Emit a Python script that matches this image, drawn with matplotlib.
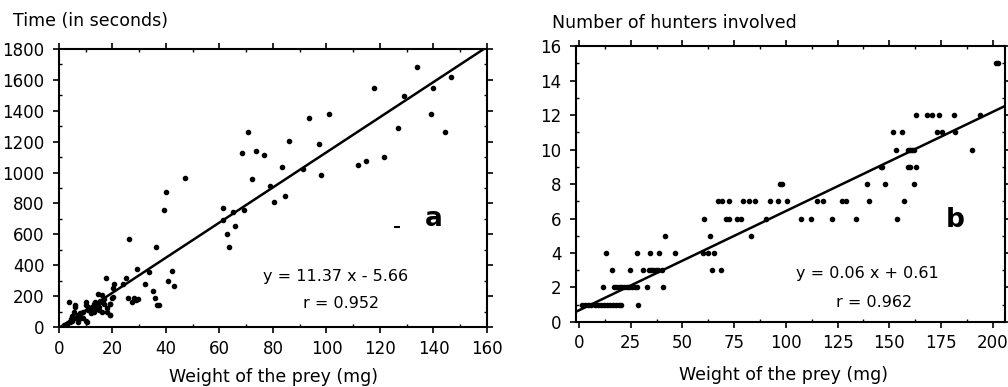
import numpy as np
import matplotlib.pyplot as plt
from matplotlib.ticker import MultipleLocator

plt.rcParams['font.family'] = ['DejaVu Sans']

# panel a: weight of prey (mg) vs time (s)
weight_a = [2, 3, 4, 4.5, 5, 5, 5.5, 6, 6, 6.5, 7, 7, 7.5, 8, 8, 9, 9, 10, 10, 10, 10.5,
            11, 11, 12, 12, 13, 13, 13.5, 14, 14, 15, 15, 15.5, 16, 16, 17, 17, 18, 18,
            19, 19, 20, 3.7, 14.7, 15.3, 17.6, 19.0, 19.2, 20.1, 20.3, 20.7, 23.8, 25.2,
            25.9, 26.2, 27.3, 28.0, 28.8, 29.2, 29.4, 32.1, 33.8, 35.3, 36.0, 36.1, 36.7,
            37.5, 39.1, 40.0, 40.7, 42.1, 43.0, 47.2, 61.2, 61.4, 62.9, 63.7, 65.2, 65.9,
            68.4, 69.0, 70.7, 72.1, 73.6, 76.8, 79.0, 80.5, 83.5, 84.4, 86.0, 91.1, 93.6,
            97.2, 98.1, 101.0, 111.7, 114.8, 117.9, 121.6, 126.8, 129.1, 133.7, 139.2,
            139.8, 144.4, 146.7]
time_a = [10, 20, 30, 50, 40, 70, 100, 130, 140, 60, 30, 80, 50, 70, 90, 100, 60, 140, 160,
          40, 30, 110, 130, 90, 120, 100, 150, 160, 120, 150, 110, 130, 170, 210, 100, 150,
          180, 120, 100, 150, 80, 190, 164, 214, 160, 317, 76, 149, 255, 192, 276, 278, 319,
          190, 572, 162, 190, 175, 374, 181, 281, 358, 231, 190, 518, 141, 141, 756, 872,
          298, 363, 268, 967, 693, 773, 600, 520, 743, 654, 1127, 758, 1261, 956, 1142,
          1114, 915, 810, 1034, 848, 1207, 1025, 1351, 1183, 984, 1381, 1047, 1075, 1550,
          1103, 1287, 1498, 1684, 1381, 1550, 1263, 1619]
stray_a = ([126.2], [650])
fit_a = (11.37, -5.66)

# panel b: weight of prey (mg) vs number of hunters
weight_b = [1.5, 3, 4.5, 6, 7.5, 9, 10.5, 12, 13.5, 15, 16.5, 18, 19.5, 20.5, 28.7,
            11.8, 17, 18, 19.5, 20.5, 21.5, 23, 24, 25.5, 27, 28, 32.7, 40.6,
            16, 24.7, 30.8, 33.8, 34.8, 35.9, 37.2, 38.4, 40, 64.2, 68.5,
            13.1, 27.9, 34.5, 38.7, 46.6, 60.1, 62.5, 65.3,
            41.7, 63.3, 83.2,
            60.4, 71.1, 72.5, 76.2, 78.2, 90.4, 107.2, 112.2, 122.2, 134.1, 153.9,
            67.4, 69.2, 72.5, 79.5, 82.4, 85.3, 92.4, 96.4, 100.4, 114.9, 118.1, 127.3,
            129.1, 140.2, 157.0,
            97.2, 98.2, 139.1, 148.1, 161.8,
            145.9, 146.5, 159.2, 160.2, 163.1,
            153.1, 158.9, 160.0, 161.0, 162.1, 190.0,
            152.0, 156.2, 173.3, 175.7, 182.0,
            163.1, 168.1, 170.8, 174.1, 181.2, 193.9,
            201.6, 202.6]
hunters_b = [1] * 15 + [2] * 13 + [3] * 11 + [4] * 8 + [5] * 3 + [6] * 11 + [7] * 15 + \
            [8] * 5 + [9] * 5 + [10] * 6 + [11] * 5 + [12] * 6 + [15] * 2
fit_b = (0.0575, 0.68)

fig = plt.figure(figsize=(10.08, 3.87), dpi=100)


def style_axes(ax, xmaj, xmin, ymaj, ymin):
    for s in ax.spines.values():
        s.set_linewidth(1.5)
    ax.xaxis.set_major_locator(MultipleLocator(xmaj))
    ax.xaxis.set_minor_locator(MultipleLocator(xmin))
    ax.yaxis.set_major_locator(MultipleLocator(ymaj))
    ax.yaxis.set_minor_locator(MultipleLocator(ymin))
    ax.tick_params(which='major', direction='out', length=4, width=1.2, labelsize=12,
                   top=True, right=True)
    ax.tick_params(which='minor', direction='in', length=2, width=1.0,
                   top=True, right=True)
    ax.tick_params(axis='x', which='major', pad=5)
    ax.tick_params(axis='y', which='major', pad=6.5)


# panel a
ax1 = fig.add_axes([0.0585, 0.155, 0.4246, 0.7183])
ax1.plot(weight_a, time_a, 'o', color='black', markersize=3)
ax1.plot(stray_a[0], stray_a[1], '_', color='black', markersize=5, markeredgewidth=1.5)
xs = np.array([0, 160])
ax1.plot(xs, fit_a[0] * xs + fit_a[1], color='black', linewidth=1.8)
ax1.set_xlim(0, 160)
ax1.set_ylim(0, 1800)
style_axes(ax1, 20, 10, 200, 100)
ax1.text(0.647, 0.18, 'y = 11.37 x - 5.66', transform=ax1.transAxes, ha='center',
         va='center', fontsize=11.5)
ax1.text(0.66, 0.083, 'r = 0.952', transform=ax1.transAxes, ha='center',
         va='center', fontsize=11.5)
ax1.text(0.875, 0.39, 'a', transform=ax1.transAxes, ha='center', va='center',
         fontsize=19, fontweight='bold')
fig.text(0.013, 0.945, 'Time (in seconds)', ha='left', va='center', fontsize=12.5)
fig.text(0.271, 0.025, 'Weight of the prey (mg)', ha='center', va='center', fontsize=12.5)

# panel b
ax2 = fig.add_axes([0.5714, 0.168, 0.4256, 0.713])
ax2.plot(weight_b, hunters_b, 'o', color='black', markersize=3)
xs = np.array([-1.5, 206])
ax2.plot(xs, fit_b[0] * xs + fit_b[1], color='black', linewidth=1.8)
ax2.set_xlim(-1.5, 206)
ax2.set_ylim(0, 16)
style_axes(ax2, 25, 12.5, 2, 1)
ax2.text(0.68, 0.175, 'y = 0.06 x + 0.61', transform=ax2.transAxes, ha='center',
         va='center', fontsize=11.5)
ax2.text(0.695, 0.072, 'r = 0.962', transform=ax2.transAxes, ha='center',
         va='center', fontsize=11.5)
ax2.text(0.885, 0.37, 'b', transform=ax2.transAxes, ha='center', va='center',
         fontsize=19, fontweight='bold')
fig.text(0.548, 0.94, 'Number of hunters involved', ha='left', va='center', fontsize=12.5)
fig.text(0.777, 0.03, 'Weight of the prey (mg)', ha='center', va='center', fontsize=12.5)

plt.savefig('out.png', dpi=100)
